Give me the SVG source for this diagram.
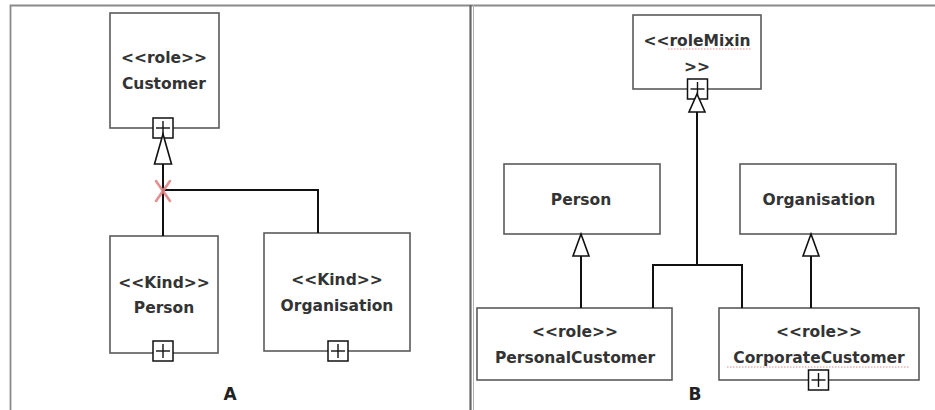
<svg xmlns="http://www.w3.org/2000/svg" width="935" height="410" viewBox="0 0 935 410">
  <style>
    .box { fill: #ffffff; stroke: #5a5a5a; stroke-width: 1.6; }
    .plus { fill: #ffffff; stroke: #111111; stroke-width: 1.5; }
    .plusmark { stroke: #111111; stroke-width: 1.4; }
    .edge { fill: none; stroke: #111111; stroke-width: 2; }
    .tri { fill: #ffffff; stroke: #111111; stroke-width: 1.6; }
    .lbl { font-family: "DejaVu Sans", "Liberation Sans", sans-serif; font-size: 15.5px; font-weight: bold; fill: #333333; text-anchor: middle; }
    .cap { font-family: "DejaVu Sans", "Liberation Sans", sans-serif; font-size: 17px; font-weight: bold; fill: #222222; text-anchor: middle; }
    .squiggle { stroke: #e08a8a; stroke-width: 1; stroke-dasharray: 1.5 1.5; }
  </style>
  <defs>
    <!-- small boxed plus symbol, centred on its origin -->
    <g id="plusbox">
      <rect class="plus" x="-10" y="-10" width="20" height="20"/>
      <line class="plusmark" x1="-7" y1="0" x2="7" y2="0"/>
      <line class="plusmark" x1="0" y1="-7" x2="0" y2="7"/>
    </g>
  </defs>

  <rect x="0" y="0" width="935" height="410" fill="#ffffff"/>

  <!-- frame and divider -->
  <g id="frame">
    <path d="M10.5 412 V5.5 H935" fill="none" stroke="#8a8a8a" stroke-width="1.8"/>
    <line x1="470.5" y1="5" x2="470.5" y2="412" stroke="#666666" stroke-width="2.2"/>
    <line x1="473.5" y1="5" x2="473.5" y2="412" stroke="#b0b0b0" stroke-width="1"/>
  </g>

  <!-- panel A -->
  <g id="a-customer">
    <rect class="box" x="110" y="13" width="109" height="115"/>
    <text class="lbl" x="164" y="63">&lt;&lt;role&gt;&gt;</text>
    <text class="lbl" x="164" y="89">Customer</text>
    <use href="#plusbox" x="163" y="128"/>
  </g>
  <g id="a-person">
    <rect class="box" x="110" y="236" width="108" height="117"/>
    <text class="lbl" x="164" y="288">&lt;&lt;Kind&gt;&gt;</text>
    <text class="lbl" x="164" y="313">Person</text>
    <use href="#plusbox" x="163" y="351"/>
  </g>
  <g id="a-organisation">
    <rect class="box" x="264" y="233" width="146" height="118"/>
    <text class="lbl" x="337" y="285">&lt;&lt;Kind&gt;&gt;</text>
    <text class="lbl" x="337" y="311">Organisation</text>
    <use href="#plusbox" x="338" y="351"/>
  </g>
  <text id="label-a" class="cap" x="230" y="400">A</text>

  <!-- panel B -->
  <g id="b-rolemixin">
    <rect class="box" x="633" y="15" width="128" height="74"/>
    <text class="lbl" x="697" y="46">&lt;&lt;roleMixin</text>
    <line class="squiggle" x1="668" y1="49" x2="752" y2="49"/>
    <text class="lbl" x="697" y="72">&gt;&gt;</text>
    <use href="#plusbox" x="697.5" y="89"/>
  </g>
  <g id="b-person">
    <rect class="box" x="504" y="164" width="156" height="70"/>
    <text class="lbl" x="581" y="205">Person</text>
  </g>
  <g id="b-organisation">
    <rect class="box" x="740" y="164" width="156" height="70"/>
    <text class="lbl" x="819" y="205">Organisation</text>
  </g>
  <g id="b-personalcustomer">
    <rect class="box" x="477" y="308" width="195" height="72"/>
    <text class="lbl" x="575" y="337">&lt;&lt;role&gt;&gt;</text>
    <text class="lbl" x="575" y="363">PersonalCustomer</text>
  </g>
  <g id="b-corporatecustomer">
    <rect class="box" x="719" y="308" width="200" height="72"/>
    <text class="lbl" x="819" y="337">&lt;&lt;role&gt;&gt;</text>
    <text class="lbl" x="819" y="363">CorporateCustomer</text>
    <line class="squiggle" x1="727" y1="367" x2="910" y2="367"/>
    <use href="#plusbox" x="818.5" y="380"/>
  </g>
  <text id="label-b" class="cap" x="695" y="400">B</text>

  <!-- connectors -->
  <g id="connectors">
    <!-- panel A: Person / Organisation specialise Customer -->
    <path class="edge" d="M163 236 V164"/>
    <path class="edge" d="M163 190 H318 V233"/>
    <polygon class="tri" points="163,134 171.5,164 154.5,164"/>
    <g stroke="#e08585" stroke-width="2.6" stroke-linecap="round" opacity="0.9">
      <line x1="156" y1="181" x2="170" y2="201"/>
      <line x1="170" y1="181" x2="156" y2="201"/>
    </g>

    <!-- panel B: roleMixin generalisation set -->
    <path class="edge" d="M697 112 V265"/>
    <path class="edge" d="M653 308 V265 H742 V308"/>
    <polygon class="tri" points="697,94 705,112 689,112"/>

    <!-- panel B: role specialises kind -->
    <path class="edge" d="M581 308 V256"/>
    <polygon class="tri" points="581,234 589,256 573,256"/>
    <path class="edge" d="M811 308 V256"/>
    <polygon class="tri" points="811,234 819,256 803,256"/>
  </g>
</svg>
